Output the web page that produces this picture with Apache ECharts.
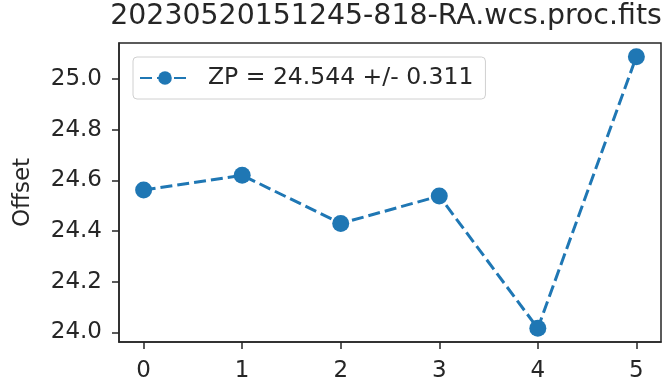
<!DOCTYPE html>
<html>
<head>
<meta charset="utf-8">
<script src="https://cdn.jsdelivr.net/npm/echarts@6/dist/echarts.min.js"></script>
<style>
  html, body { margin: 0; padding: 0; background: #fff; }
  #chart { width: 672px; height: 385px; }
</style>
</head>
<body>
<div id="chart"></div>
<script>
// 数据：每个帧的零点偏移
const xValues = [0, 1, 2, 3, 4, 5];
const offsets = [24.562, 24.620, 24.430, 24.538, 24.016, 25.088];
const xTicks = [0, 1, 2, 3, 4, 5];
const yTicks = [24.0, 24.2, 24.4, 24.6, 24.8, 25.0];
const chartTitle = '20230520151245-818-RA.wcs.proc.fits';
const seriesName = 'ZP = 24.544 +/- 0.311';

const blue = '#1f77b4';
const ink = '#262626';
const font = 'DejaVu Sans';

const chart = echarts.init(document.getElementById('chart'));

const option = {
  animation: false,
  backgroundColor: '#fff',
  title: {
    text: chartTitle,
    left: 386,
    textAlign: 'center',
    top: 3,
    padding: 0,
    textStyle: { fontFamily: font, fontSize: 28.4, fontWeight: 'normal', color: ink },
  },
  legend: {
    left: 133,
    top: 57,
    padding: [9, 12, 9, 6],
    borderColor: '#d0d0d0',
    borderWidth: 1,
    borderRadius: 4,
    itemWidth: 50,
    itemHeight: 17,
    textStyle: { fontFamily: font, fontSize: 23.5, color: ink, padding: [0, 0, 0, 13] },
    data: [seriesName],
  },
  grid: {
    left: 119,
    right: 11,
    top: 43,
    bottom: 43,
    show: true,
    borderColor: ink,
    borderWidth: 1.5,
    outerBoundsMode: 'none',
  },
  xAxis: {
    type: 'value',
    min: -0.25,
    max: 5.25,
    splitLine: { show: false },
    axisLine: { onZero: false, lineStyle: { color: ink, width: 1.5 } },
    axisTick: { customValues: xTicks, length: 7, lineStyle: { color: ink, width: 1.5 } },
    axisLabel: {
      customValues: xTicks,
      margin: 18,
      fontFamily: font,
      fontSize: 23,
      color: ink,
    },
  },
  yAxis: {
    type: 'value',
    min: 23.962,
    max: 25.142,
    name: 'Offset',
    nameLocation: 'middle',
    nameGap: 84,
    nameTextStyle: { fontFamily: font, fontSize: 23, color: ink },
    splitLine: { show: false },
    axisLine: { onZero: false, lineStyle: { color: ink, width: 1.5 } },
    axisTick: { customValues: yTicks, length: 7, lineStyle: { color: ink, width: 1.5 } },
    axisLabel: {
      customValues: yTicks,
      margin: 17,
      fontFamily: font,
      fontSize: 23,
      color: ink,
      formatter: v => v.toFixed(1),
    },
  },
  series: [
    {
      name: seriesName,
      type: 'line',
      data: xValues.map((x, i) => [x, offsets[i]]),
      symbol: 'circle',
      symbolSize: 17,
      itemStyle: { color: blue },
      lineStyle: { color: blue, width: 3, type: [12, 5] },
    },
  ],
};

chart.setOption(option);
</script>
</body>
</html>
